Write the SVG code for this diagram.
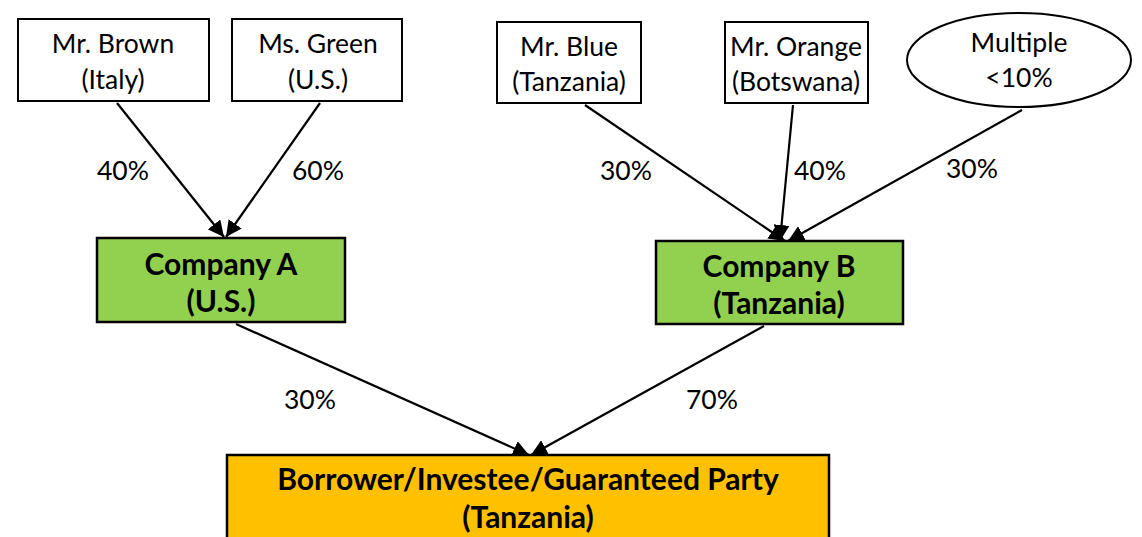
<svg xmlns="http://www.w3.org/2000/svg" width="1142" height="537" viewBox="0 0 1142 537">
<style>
.box{fill:#fff;stroke:#000;stroke-width:2}
.green{fill:#92D050;stroke:#000;stroke-width:2.5}
.orange{fill:#FFC000;stroke:#000;stroke-width:2.5}
.t{font-family:Lato,"Open Sans","Liberation Sans",sans-serif;font-size:26.5px;fill:#000;text-anchor:middle}
.b{font-family:Lato,"Open Sans","Liberation Sans",sans-serif;font-size:30px;font-weight:bold;fill:#000;text-anchor:middle}
.c{stroke:#000;stroke-width:2.2;fill:none;marker-end:url(#ah)}
</style>
<defs>
<marker id="ah" markerUnits="userSpaceOnUse" markerWidth="18" markerHeight="16" refX="16" refY="8" orient="auto">
<path d="M0,0 L16,8 L0,16 Z" fill="#000"/>
</marker>
</defs>
<rect width="1142" height="537" fill="#fff"/>
<g id="connectors">
<line class="c" x1="117" y1="103" x2="224" y2="237"/>
<line class="c" x1="320" y1="103" x2="226" y2="237"/>
<line class="c" x1="585" y1="105" x2="785" y2="241"/>
<line class="c" x1="793" y1="105" x2="780" y2="241"/>
<line class="c" x1="1022" y1="110" x2="788" y2="241"/>
<line class="c" x1="236" y1="324" x2="529" y2="455"/>
<line class="c" x1="764" y1="326" x2="531" y2="455"/>
<text class="t" x="123" y="180">40%</text>
<text class="t" x="318" y="180">60%</text>
<text class="t" x="626" y="180">30%</text>
<text class="t" x="820" y="180">40%</text>
<text class="t" x="972" y="178">30%</text>
<text class="t" x="310" y="409">30%</text>
<text class="t" x="712" y="409">70%</text>
</g>
<g id="brown"><rect class="box" x="18" y="19" width="191" height="82"/><text class="t" x="113" y="53">Mr. Brown</text><text class="t" x="113" y="89">(Italy)</text></g>
<g id="green"><rect class="box" x="232" y="19" width="170" height="82"/><text class="t" x="318" y="53">Ms. Green</text><text class="t" x="318" y="89">(U.S.)</text></g>
<g id="blue"><rect class="box" x="497" y="22" width="144" height="81"/><text class="t" x="569" y="56">Mr. Blue</text><text class="t" x="569" y="91">(Tanzania)</text></g>
<g id="orange"><rect class="box" x="725" y="22" width="143" height="81"/><text class="t" x="796" y="56">Mr. Orange</text><text class="t" x="796" y="91">(Botswana)</text></g>
<g id="multiple"><ellipse class="box" cx="1019" cy="60" rx="112" ry="47"/><text class="t" x="1019" y="52">Multiple</text><text class="t" x="1019" y="87">&lt;10%</text></g>
<g id="companyA"><rect class="green" x="97" y="238" width="248" height="84"/><text class="b" x="221" y="275">Company A</text><text class="b" x="221" y="312">(U.S.)</text></g>
<g id="companyB"><rect class="green" x="656" y="241" width="247" height="83"/><text class="b" x="779" y="277">Company B</text><text class="b" x="779" y="314">(Tanzania)</text></g>
<g id="borrower"><rect class="orange" x="227" y="455" width="602" height="90"/><text class="b" x="528" y="490">Borrower/Investee/Guaranteed Party</text><text class="b" x="528" y="528">(Tanzania)</text></g>
</svg>
